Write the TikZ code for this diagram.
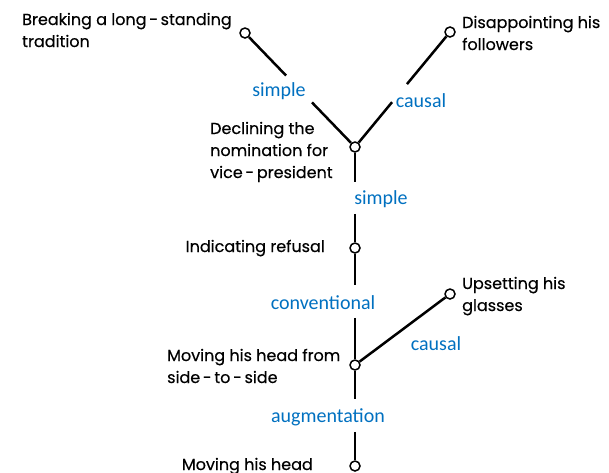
\documentclass[tikz,border=0pt]{standalone}
\usepackage{fontspec}
\setmainfont{Poppins}[FakeBold=0.4]
\newfontfamily\labfont{Carlito}
\usetikzlibrary{calc}
\definecolor{lblue}{RGB}{0,112,192}
\begin{document}
\begin{tikzpicture}[x=1pt,y=-1pt,
  pt/.style={circle,draw,fill=white,minimum size=10pt,inner sep=0pt,line width=1.5pt},
  conn/.style={line width=2.5pt},
  txt/.style={font=\fontsize{16}{22}\selectfont, inner sep=0pt, align=left},
  lab/.style={font=\labfont\fontsize{20}{24}\selectfont, text=lblue, inner sep=0pt}]
\useasboundingbox (0,0) rectangle (609,472);
% event points
\node[pt] (brk) at (245,33) {};
\node[pt] (dis) at (450,32) {};
\node[pt] (dec) at (355,147) {};
\node[pt] (ind) at (355,248) {};
\node[pt] (ups) at (450,294) {};
\node[pt] (mov) at (355,365) {};
\node[pt] (hed) at (355,466) {};
% texts (base anchor = baseline of the last line)
\node[txt, anchor=base west] (tbrk) at (22,47) {Breaking a long\,-\,standing\\tradition};
\node[txt, anchor=base west] (tdis) at (462,50) {Disappointing his\\followers};
\node[txt, anchor=base west] (tdec) at (210,178) {Declining the\\nomination for\\vice\,-\,president};
\node[txt, anchor=base east] (tind) at (325,252) {Indicating refusal};
\node[txt, anchor=base west] (tups) at (462,311) {Upsetting his\\glasses};
\node[txt, anchor=base west] (tmov) at (167,383) {Moving his head from\\side\,-\,to\,-\,side};
\node[txt, anchor=base east] (thed) at (313,470) {Moving his head};
% connectors with gaps for labels
\draw[conn] (brk) -- ($(brk)!0.373!(dec)$);
\draw[conn] ($(brk)!0.609!(dec)$) -- (dec);
\draw[conn] (dis) -- ($(dis)!0.453!(dec)$);
\draw[conn] ($(dis)!0.61!(dec)$) -- (dec);
\draw[conn] (dec) -- ($(dec)!0.347!(ind)$);
\draw[conn] ($(dec)!0.663!(ind)$) -- (ind);
\draw[conn] (ind) -- ($(ind)!0.316!(mov)$);
\draw[conn] ($(ind)!0.598!(mov)$) -- (mov);
\draw[conn] (mov) -- ($(mov)!0.337!(hed)$);
\draw[conn] ($(mov)!0.663!(hed)$) -- (hed);
\draw[conn] (mov) -- (ups);
% relation labels
\node[lab] (l1) at (279,91) {simple};
\node[lab] (l2) at (421,101) {causal};
\node[lab] (l3) at (381,199) {simple};
\node[lab] (l4) at (323,303) {conventional};
\node[lab] (l5) at (436,344) {causal};
\node[lab] (l6) at (328,417) {augmentation};
\end{tikzpicture}
\end{document}
